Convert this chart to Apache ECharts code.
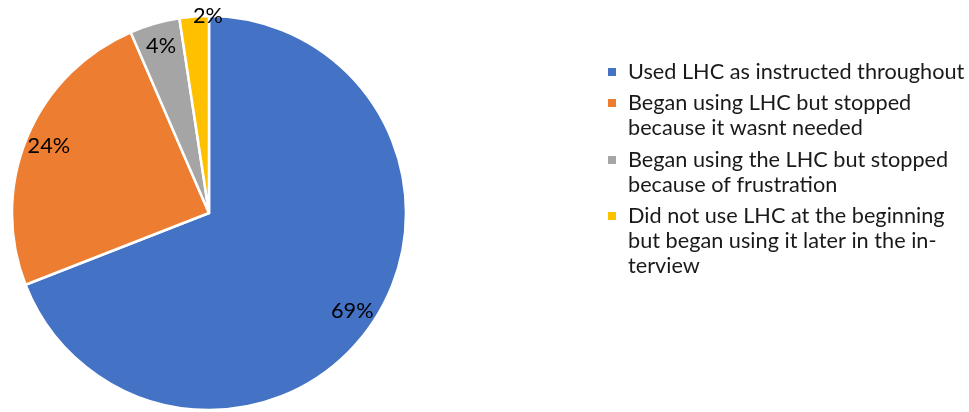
<!DOCTYPE html>
<html>
<head>
<meta charset="utf-8">
<script src="https://cdn.jsdelivr.net/npm/echarts@6/dist/echarts.min.js"></script>
<style>
html,body{margin:0;padding:0;background:#fff;}
#chart{width:969px;height:412px;}
</style>
</head>
<body>
<div id="chart"></div>
<script>
// ---- data ----
var categories = [
  'Used LHC as instructed throughout',
  'Began using LHC but stopped because it wasnt needed',
  'Began using the LHC but stopped because of frustration',
  'Did not use LHC at the beginning but began using it later in the interview'
];
var legendLines = [
  ['Used LHC as instructed throughout'],
  ['Began using LHC but stopped', 'because it wasnt needed'],
  ['Began using the LHC but stopped', 'because of frustration'],
  ['Did not use LHC at the beginning', 'but began using it later in the in-', 'terview']
];
var shares = [69, 24.4, 4.1, 2.4];
var colors = ['#4472C4', '#ED7D31', '#A5A5A5', '#FFC000'];

// ---- layout ----
var center = [209, 213];
var radius = 197;
var lineH = 25;
var legendFirstLineY = [72, 103, 160, 216];

var pieData = categories.map(function (c, i) {
  return { name: c, value: shares[i], itemStyle: { color: colors[i] } };
});

var legends = categories.map(function (c, i) {
  var n = legendLines[i].length;
  var pad = [];
  for (var k = 0; k < n - 1; k++) pad.push(' ');
  var text = pad.concat(legendLines[i]).join('\n');
  var H = (2 * n - 1) * lineH;
  return {
    orient: 'vertical',
    left: 606,
    top: legendFirstLineY[i] - H / 2,
    padding: 0,
    itemWidth: 10,
    itemHeight: 10,
    icon: 'rect',
    selectedMode: false,
    data: [c],
    formatter: function () { return text; },
    textStyle: {
      fontFamily: 'Lato',
      fontSize: 21.7,
      lineHeight: lineH,
      color: '#1a1a1a',
      padding: [0, 0, 0, 6]
    }
  };
});

var chart = echarts.init(document.getElementById('chart'), null, { renderer: 'canvas' });
chart.setOption({
  animation: false,
  backgroundColor: '#ffffff',
  legend: legends,
  series: [
    {
      type: 'pie',
      center: center,
      radius: [0, radius],
      startAngle: 90,
      clockwise: true,
      data: pieData,
      label: { show: false },
      labelLine: { show: false },
      itemStyle: { borderColor: '#ffffff', borderWidth: 2.5 },
      emphasis: { disabled: true }
    },
    {
      type: 'pie',
      center: center,
      radius: [144, radius],
      startAngle: 90,
      clockwise: true,
      silent: true,
      legendHoverLink: false,
      data: categories.map(function (c, i) {
        return { name: c + ' ', value: shares[i] };
      }),
      itemStyle: { color: 'rgba(0,0,0,0)' },
      label: {
        show: true,
        position: 'inside',
        fontFamily: 'Lato',
        fontSize: 21.7,
        color: '#000000',
        formatter: function (p) { return Math.round(p.percent) + '%'; }
      },
      labelLine: { show: false },
      labelLayout: function (p) {
        if (p.dataIndex === 3) { return { dx: 12, dy: -24 }; }
        return {};
      },
      emphasis: { disabled: true }
    }
  ]
});
</script>
</body>
</html>
